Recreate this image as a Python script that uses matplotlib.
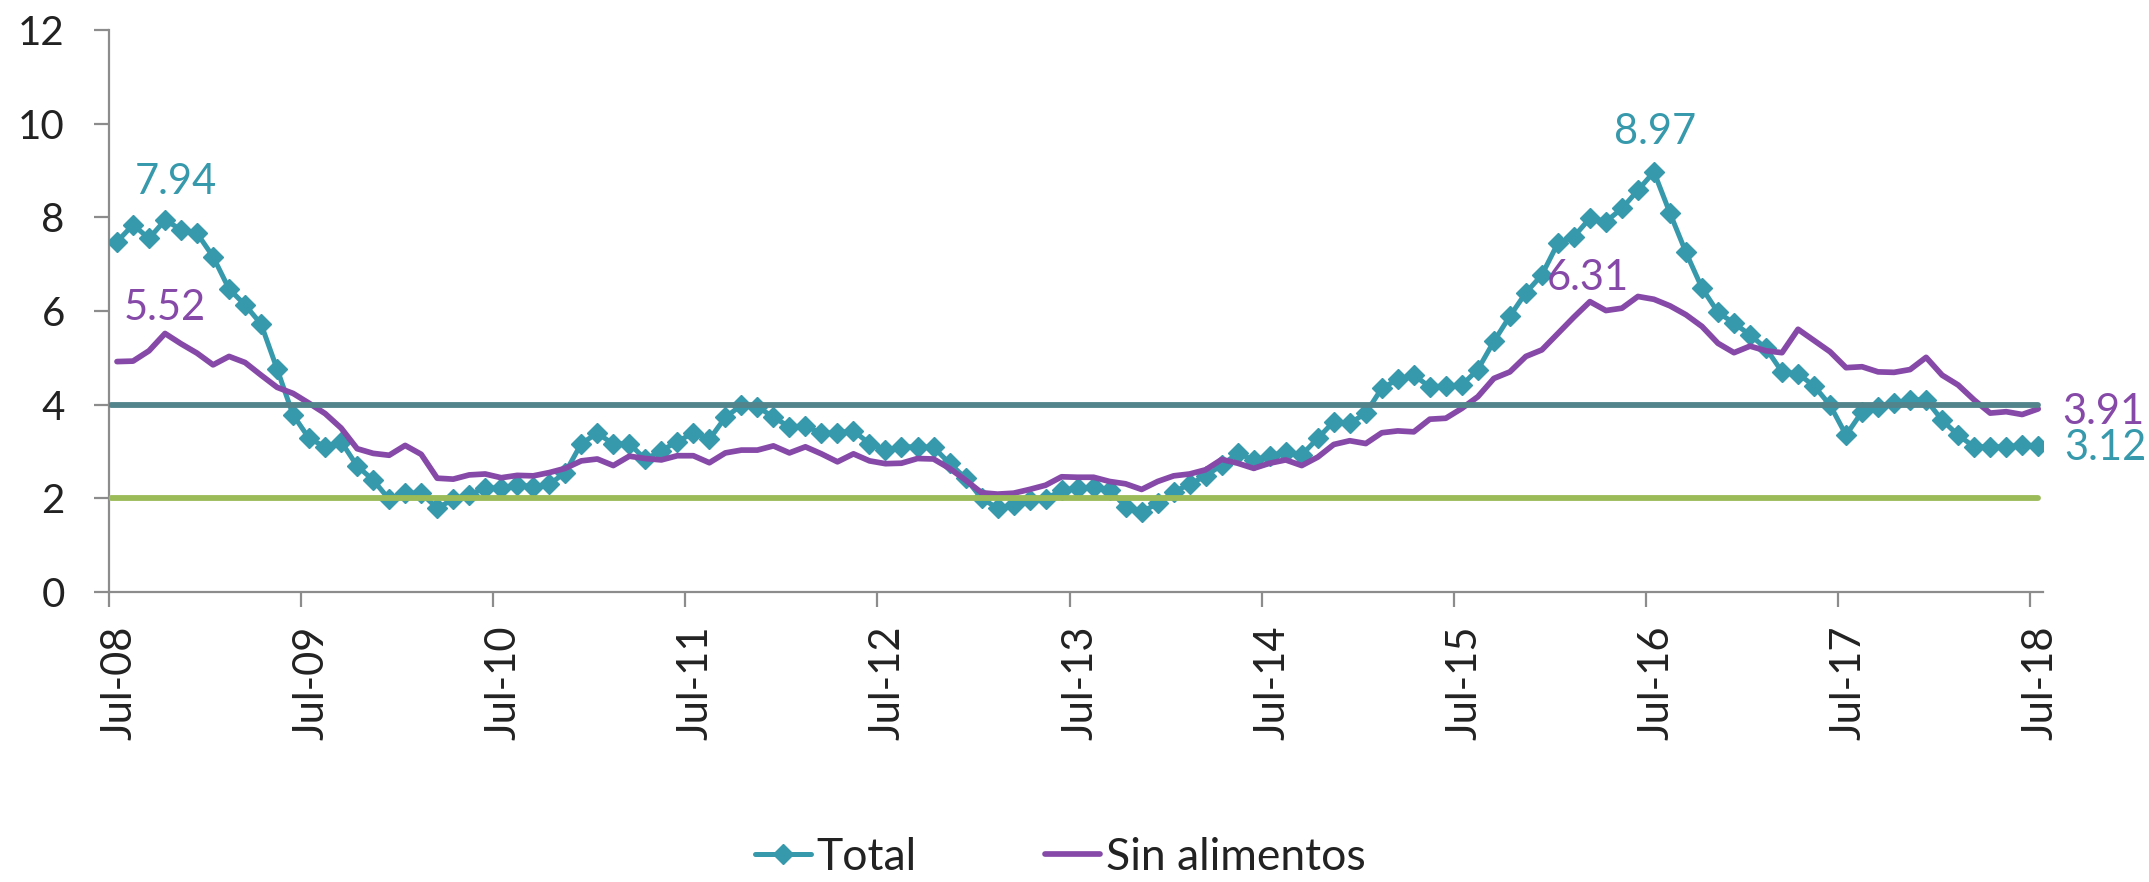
import matplotlib
matplotlib.use("Agg")
import matplotlib.pyplot as plt
import numpy as np

plt.rcParams['font.family'] = ['Lato', 'DejaVu Sans']

# ---- data (monthly, Jul-08 .. Jul-18) ----
total = [7.48, 7.84, 7.55, 7.94, 7.74, 7.66, 7.16, 6.47, 6.13, 5.72, 4.76, 3.78,
         3.28, 3.10, 3.21, 2.69, 2.39, 1.98, 2.11, 2.11, 1.79, 1.98, 2.07, 2.23,
         2.21, 2.29, 2.25, 2.30, 2.55, 3.17, 3.39, 3.16, 3.17, 2.83, 3.02, 3.21,
         3.40, 3.26, 3.73, 3.99, 3.96, 3.73, 3.53, 3.54, 3.39, 3.40, 3.44, 3.17,
         3.03, 3.10, 3.10, 3.09, 2.75, 2.43, 2.00, 1.79, 1.86, 1.96, 1.98, 2.18,
         2.21, 2.24, 2.18, 1.82, 1.71, 1.89, 2.14, 2.30, 2.48, 2.71, 2.96, 2.82,
         2.90, 3.00, 2.93, 3.28, 3.64, 3.60, 3.82, 4.35, 4.54, 4.63, 4.38, 4.40,
         4.42, 4.75, 5.35, 5.89, 6.39, 6.77, 7.45, 7.59, 7.98, 7.91, 8.19, 8.58,
         8.97, 8.09, 7.25, 6.49, 5.97, 5.74, 5.49, 5.20, 4.70, 4.66, 4.40, 3.99,
         3.35, 3.85, 3.96, 4.03, 4.11, 4.10, 3.67, 3.35, 3.10, 3.10, 3.10, 3.14,
         3.12]
sin_alimentos = [4.92, 4.93, 5.15, 5.52, 5.30, 5.10, 4.85, 5.03, 4.90, 4.63, 4.37, 4.24,
                 4.03, 3.81, 3.50, 3.06, 2.96, 2.92, 3.13, 2.94, 2.43, 2.41, 2.50, 2.52,
                 2.44, 2.49, 2.48, 2.55, 2.64, 2.80, 2.84, 2.70, 2.90, 2.85, 2.82, 2.91,
                 2.91, 2.76, 2.97, 3.03, 3.03, 3.12, 2.97, 3.10, 2.95, 2.78, 2.95, 2.80,
                 2.74, 2.75, 2.85, 2.84, 2.64, 2.39, 2.12, 2.09, 2.11, 2.19, 2.28, 2.46,
                 2.45, 2.45, 2.36, 2.31, 2.19, 2.36, 2.48, 2.52, 2.61, 2.83, 2.75, 2.64,
                 2.75, 2.82, 2.70, 2.88, 3.15, 3.23, 3.17, 3.40, 3.44, 3.42, 3.69, 3.71,
                 3.92, 4.17, 4.56, 4.70, 5.03, 5.17, 5.52, 5.87, 6.20, 6.01, 6.06, 6.31,
                 6.25, 6.11, 5.92, 5.67, 5.31, 5.11, 5.25, 5.15, 5.11, 5.61, 5.37, 5.13,
                 4.79, 4.81, 4.70, 4.69, 4.75, 5.01, 4.63, 4.42, 4.10, 3.82, 3.85, 3.79,
                 3.91]
target_upper = 4.0
target_lower = 2.0
tick_labels = ['Jul-08', 'Jul-09', 'Jul-10', 'Jul-11', 'Jul-12', 'Jul-13',
               'Jul-14', 'Jul-15', 'Jul-16', 'Jul-17', 'Jul-18']
y_ticks = [0, 2, 4, 6, 8, 10, 12]

C_TOTAL = '#3799AC'
C_SIN = '#8649A8'
C_UP = '#52848C'
C_LOW = '#9BBB59'
C_AX = '#8C8C8C'

W, H = 2149, 882
fig = plt.figure(figsize=(W / 100, H / 100), dpi=100)
ax = fig.add_axes([109 / W, 1 - 592 / H, 1934 / W, 562 / H])

x = np.arange(len(total))
xl = (-0.375, 120.3)

ax.plot(x, total, color=C_TOTAL, lw=3.6, marker='D', ms=10,
        mec=C_TOTAL, mfc=C_TOTAL, zorder=3, label='Total',
        solid_joinstyle='round', solid_capstyle='round')
ax.plot(x, sin_alimentos, color=C_SIN, lw=4.1, zorder=4, label='Sin alimentos',
        solid_joinstyle='round', solid_capstyle='round')
ax.hlines(target_upper, xl[0], x[-1], color=C_UP, lw=4.2, zorder=5, capstyle='round')
ax.hlines(target_lower, xl[0], x[-1], color=C_LOW, lw=4.2, zorder=5, capstyle='round')

ax.set_xlim(*xl)
ax.set_ylim(0, 12)

for s in ['top', 'right']:
    ax.spines[s].set_visible(False)
for s in ['left', 'bottom']:
    ax.spines[s].set_color(C_AX)
    ax.spines[s].set_linewidth(1.6)
    ax.spines[s].set_zorder(1)

ax.set_yticks(y_ticks)
ax.set_yticklabels([str(v) for v in y_ticks])
ax.tick_params(axis='y', length=10.8, width=1.6, color=C_AX, pad=21,
               labelsize=29, labelcolor='#222222')

pos = np.arange(0, 121, 12)
ax.set_xticks(pos - 0.5)
ax.set_xticklabels([])
ax.set_xticks(pos + 0.15, minor=True)
ax.set_xticklabels(tick_labels, minor=True, rotation=90, fontsize=30,
                   color='#222222', va='top', ha='center')
ax.tick_params(axis='x', which='major', length=10.8, width=1.6, color=C_AX)
ax.tick_params(axis='x', which='minor', length=0, pad=24)

# data labels
fs = 30
ax.text(3.7, 8.75, '7.94', color=C_TOTAL, fontsize=fs, ha='center', va='center')
ax.text(3.0, 6.06, '5.52', color=C_SIN, fontsize=fs, ha='center', va='center')
ax.text(96.1, 9.82, '8.97', color=C_TOTAL, fontsize=fs, ha='center', va='center')
ax.text(91.9, 6.71, '6.31', color=C_SIN, fontsize=fs, ha='center', va='center')
ax.text(124.1, 3.84, '3.91', color=C_SIN, fontsize=fs, ha='center', va='center',
        clip_on=False)
ax.text(124.2, 3.07, '3.12', color=C_TOTAL, fontsize=fs, ha='center', va='center',
        clip_on=False)

h1, l1 = ax.get_legend_handles_labels()
leg = fig.legend(h1, l1, loc='center left', bbox_to_anchor=(755 / W, 1 - 857 / H),
                 ncol=2, frameon=False, fontsize=32, handlelength=1.25,
                 handletextpad=0.12, columnspacing=2.9, numpoints=1,
                 borderaxespad=0, borderpad=0)
for t in leg.get_texts():
    t.set_color('#222222')

fig.savefig('out.png', dpi=100)
